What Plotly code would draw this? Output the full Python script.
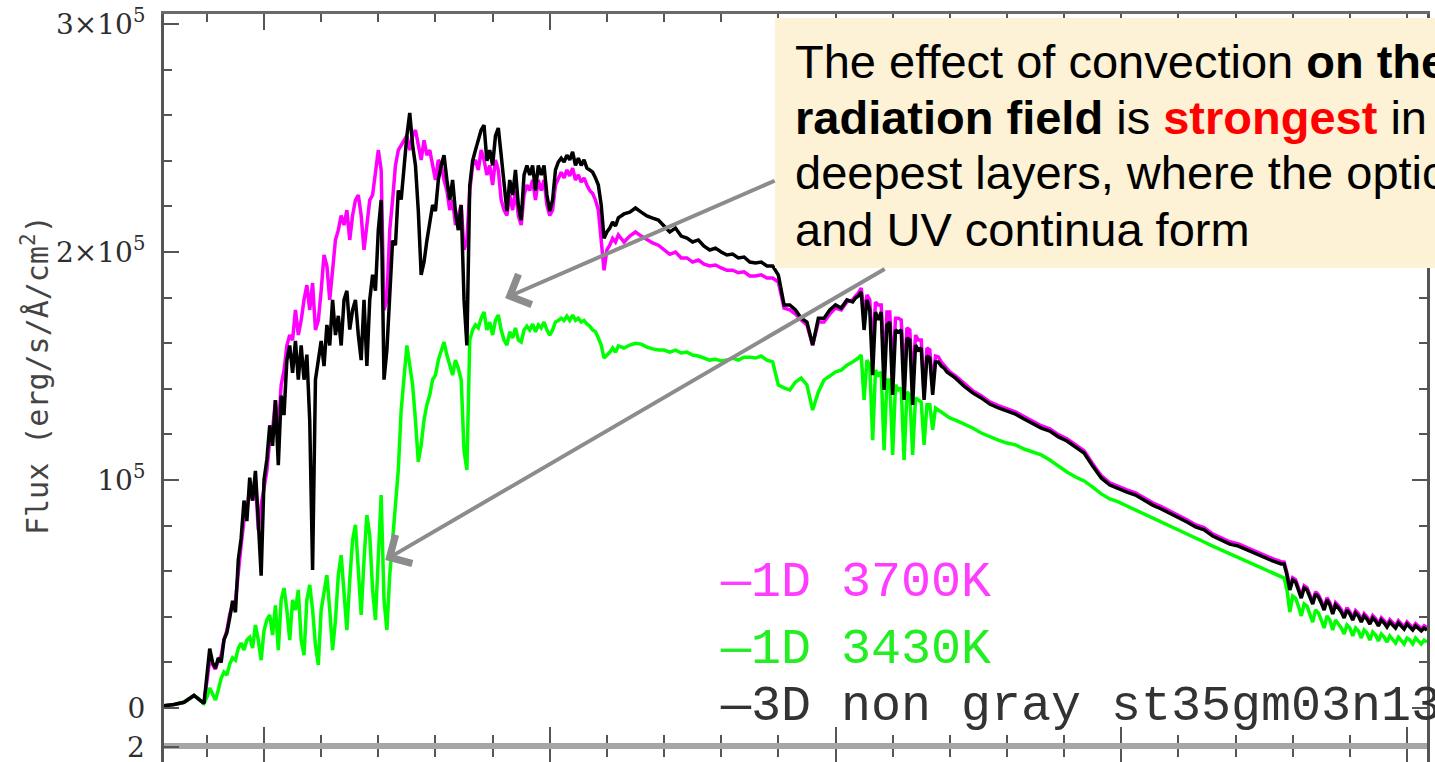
import plotly.graph_objects as go

# Wavelength grid (Angstrom) shared by the three synthetic spectra
lam = [
    3250, 3425, 3600, 3775, 3950,
    4000, 4050, 4100, 4150, 4200, 4250, 4300, 4350, 4400, 4450,
    4500, 4550, 4600, 4650, 4700, 4750, 4800, 4850, 4900, 4950,
    5000, 5050, 5100, 5150, 5200, 5250, 5300, 5350, 5400, 5450,
    5500, 5550, 5600, 5650, 5700, 5750, 5800, 5850, 5900, 5950,
    6000, 6050, 6100, 6150, 6200, 6250, 6300, 6350, 6400, 6450,
    6500, 6550, 6600, 6650, 6700, 6750, 6800, 6850, 6900, 6950,
    7000, 7050, 7100, 7150, 7200, 7250, 7300, 7350, 7400, 7450,
    7500, 7550, 7600, 7650, 7700, 7750, 7800, 7850, 7900, 7950,
    8000, 8050, 8100, 8150, 8200, 8250, 8300, 8350, 8400, 8450,
    8500, 8550, 8600, 8650, 8700, 8750, 8800, 8850, 8900, 8950,
    9000, 9050, 9100, 9150, 9200, 9250, 9300, 9350, 9400, 9450,
    9500, 9550, 9600, 9650, 9700, 9750, 9800, 9850, 9900, 9950,
    10000, 10050, 10100, 10150, 10200, 10250, 10300, 10350, 10400, 10450,
    10500, 10550, 10600, 10650, 10700, 10750, 10800, 10850, 10900, 10950,
    11000, 11050, 11100, 11150, 11200,
    11300, 11400, 11500, 11600, 11700, 11800, 11900, 12000, 12100, 12200,
    12300, 12400, 12500, 12600, 12700, 12800, 12900, 13000, 13100, 13200,
    13300, 13400, 13500, 13600, 13700, 13800, 13900, 14000, 14100, 14200,
    14300, 14400, 14500, 14600, 14700, 14800, 14900, 15000, 15100, 15200,
    15300,
    15350, 15400, 15450, 15500, 15550, 15600, 15650, 15700, 15750, 15800,
    15850, 15900, 15950, 16000, 16050, 16100, 16150, 16200, 16250, 16300,
    16350, 16400, 16450, 16500, 16550, 16600, 16650, 16700, 16750, 16800,
    16850, 16900, 16950, 17000,
    17100, 17250, 17400, 17550, 17700, 17850, 18000, 18150, 18300, 18450,
    18600, 18750, 18900, 19050, 19200, 19350, 19500, 19650, 19800, 19950,
    20100, 20250, 20400, 20550, 20700, 20850, 21000, 21150, 21300, 21450,
    21600, 21750, 21900, 22050, 22200, 22350, 22500, 22650, 22800,
    22850, 22900, 22950, 23000, 23050, 23100, 23150, 23200, 23250, 23300,
    23350, 23400, 23450, 23500, 23550, 23600, 23650, 23700, 23750, 23800,
    23850, 23900, 23950, 24000, 24050, 24100, 24150, 24200, 24250, 24300,
    24350, 24400, 24450, 24500, 24550, 24600, 24650, 24700, 24750, 24800,
    24850, 24900, 24950, 25000, 25050, 25100, 25150, 25200, 25250, 25300,
    25350,
]

# Flux in units of 10^3 erg/s/A/cm^2
flux_1d_3700 = [
    1, 1.5, 2.5, 5.5, 2,
    12, 21, 19, 17, 21, 23, 30, 34, 41, 45,
    47, 60.5, 71.5, 82.5, 87, 95.6, 91, 100, 78, 89,
    95.6, 104, 117.5, 122, 135, 122, 141.7, 148, 159, 163.6,
    161.4, 174.6, 163.6, 170, 179, 185.5, 174.6, 186.4, 165.8, 170,
    183, 198.7, 194, 179, 192, 205.3, 209.6, 216, 211.8, 218.4,
    205.3, 216, 222.8, 225, 216, 201, 211.8, 222.8, 225, 236,
    244.7, 236, 174.6, 179, 209.6, 222.8, 238, 244.7, 247, 249,
    251, 244.7, 251, 253.5, 247, 240.4, 249, 242.5, 244.7, 238,
    231.6, 240.4, 238, 231.6, 227, 218.4, 222.8, 211.8, 216, 220.6,
    201, 205, 227, 238, 240.4, 236, 244.7, 240.4, 233.8, 238,
    229.4, 240.4, 236, 222.8, 218.4, 216, 225, 218.4, 227, 216,
    211.8, 225, 229.4, 227, 231.6, 222.8, 231.6, 227, 231.6, 220.6,
    216, 218.4, 229.4, 232.5, 235, 232.5, 236, 233.4, 236.8, 231.6,
    233.8, 230.7, 232.5, 229.4, 227, 225.7, 222.8, 218.4, 205.3, 192,
    201, 203, 206, 204.4, 207.5,
    204.4, 207, 208.8, 207, 205.3, 204, 203, 200.9, 199, 200,
    197.4, 197.4, 195.6, 196.5, 194.7, 193.9, 194.3, 193, 192, 192,
    190.9, 191.3, 189.5, 189.5, 190, 188.6, 188.6, 186.8, 175.4, 174.6,
    172.8, 170.2, 168, 159.2, 169.3, 169.3, 172.8, 175.4, 174.6, 178.1,
    179,
    180.7, 182, 184.2, 172.4, 181.2, 179, 157, 178, 176.8, 176.8,
    148.2, 173.7, 173.7, 146, 171, 171, 170.2, 144, 166.7, 165.8,
    141.7, 163.6, 161.4, 161.4, 137.3, 157.9, 157, 141.7, 154.4, 154,
    151.8, 150.4, 149.1, 147.4,
    145.7, 142.2, 139.2, 137, 134.3, 132.6, 131.3, 129.9, 127.8, 125.6,
    123.8, 122.5, 119.9, 118.1, 115.5, 112.8, 107.1, 101.9, 98.8, 97.1,
    95.7, 94.4, 92.2, 90, 88.3, 86.5, 84.8, 82.6, 80.4, 79.1,
    76.4, 74.7, 72.9, 72, 70.3, 68.5, 67.2, 65.5, 64.2,
    64, 59.3, 52.8, 57.1, 56.3, 52.8, 49.2, 53.6, 52.8, 49.7,
    46.6, 51, 49.7, 47.1, 44, 48.4, 46.2, 42.2, 46.2, 44.9,
    43.1, 40.5, 44, 42.2, 39.6, 42.7, 41.4, 38.7, 41.4, 40,
    37.8, 40.5, 39.2, 37, 39.6, 38.3, 36.5, 38.7, 37.4, 36.1,
    38.3, 37, 35.6, 37.8, 36.5, 35.2, 37, 36.1, 34.8, 36.1,
    35.2,
]

flux_1d_3430 = [
    1, 1.5, 2.5, 5.5, 2,
    4.8, 8.8, 5.7, 3.5, 7.9, 13, 15.8, 14.5, 19.3, 22,
    21, 26.3, 28.5, 25.4, 29.8, 31, 26.3, 36.4, 29.8, 21,
    34, 38.6, 40.8, 32, 45, 25.4, 47.4, 52.6, 43, 29.8,
    47.4, 43, 51.8, 29.8, 23.2, 47.4, 54, 43, 27.6, 18.9,
    43, 51.8, 58.3, 43, 25.4, 38.6, 58.3, 67, 51.8, 34.2,
    56, 73.7, 80.3, 60.5, 40.8, 65, 84.6, 75.9, 51.8, 38.6,
    65, 93.4, 47.4, 34.2, 58.3, 73.7, 91.2, 104.4, 130.7, 146,
    159, 150.4, 141.7, 126.3, 108, 115.4, 126.3, 133, 137.3, 144,
    146, 152.6, 157, 160.5, 154.8, 150.4, 146, 152.6, 149, 144,
    113, 104.4, 161.4, 165.8, 168, 166.7, 171, 173.7, 165.8, 169.3,
    163.6, 170, 172.4, 165.8, 161.4, 159.2, 165, 162.3, 166.7, 161.4,
    160.5, 165.8, 167.5, 165.8, 168.4, 165, 168, 166.7, 169.3, 165.8,
    163.6, 165.8, 169.3, 170, 171, 170, 171.9, 170, 172.4, 170,
    171, 169.3, 170, 168.4, 167.5, 165.8, 165, 162.3, 159.2, 153.5,
    154.8, 156, 157.9, 156, 158.8,
    157.9, 159.2, 160, 159.6, 158.3, 157.5, 157, 157, 156.1, 157,
    155.7, 156.1, 154.8, 154.4, 153.5, 152.6, 153, 152.2, 152.6, 153.5,
    152.6, 153.9, 153.9, 153.5, 154.4, 152.6, 151.8, 141.7, 140.4, 139.5,
    143, 144.7, 141.7, 130.7, 138.6, 143.9, 145.6, 147.4, 148.2, 150.4,
    151.8,
    152.6, 153.5, 154.8, 135.1, 152.6, 150.4, 117.5, 148.2, 146, 147.4,
    113.1, 143.9, 143.9, 111, 141.7, 139.5, 140.4, 108.8, 138.6, 137.3,
    111, 136, 135.1, 134.2, 115.4, 133, 133, 122, 131.6, 130.7,
    129.8, 128.9, 128, 127.2,
    126.3, 124.6, 122.8, 120.6, 118.9, 117.5, 116.2, 115.4, 113.6, 112.3,
    111, 108.8, 106.1, 103.5, 101.3, 99.6, 96.9, 93.9, 91.7, 90.4,
    88.6, 86.8, 85.1, 83.3, 81.6, 79.8, 78.1, 76.3, 74.6, 72.8,
    71, 69.3, 68, 66.2, 64.5, 62.7, 61, 59.2, 57.5,
    57, 51.8, 42.1, 49.1, 48.2, 44.7, 40.4, 45.6, 44.7, 41.2,
    37.7, 43, 41.7, 38.6, 35.1, 40.4, 38.6, 34.2, 38.6, 36.8,
    35.1, 32.5, 36.4, 35.1, 31.6, 35.1, 33.8, 30.7, 34.2, 32.9,
    29.8, 33.3, 32, 29.4, 32.5, 31.1, 28.9, 31.6, 30.3, 28.5,
    31.1, 29.8, 28.1, 30.7, 29.8, 28.1, 30.7, 29.4, 28.1, 29.8,
    28.9,
]

flux_3d = [
    1, 1.5, 2.5, 5.5, 2,
    14.5, 26, 20, 17.5, 22, 20, 30, 33, 39.5, 47,
    42, 65, 74.5, 91, 82, 101, 91, 104, 82, 58,
    100, 109, 124, 115, 135, 106.5, 137, 128.5, 152.6, 159,
    147, 161, 144, 159, 144, 155, 126, 60.5, 144, 152.6,
    161, 150, 168, 159, 179, 163.6, 172, 159, 179, 183,
    166, 174.6, 179, 163.6, 152.6, 179, 150, 179, 190, 183,
    209.6, 222.8, 144, 157, 183, 205, 203, 227, 223, 238,
    251, 261, 247, 238, 218, 190, 195.6, 205, 212, 220.6,
    218, 231.6, 238, 242.5, 231.6, 222.8, 231.6, 217.5, 209.6, 220.6,
    179, 159, 229, 240, 244.7, 249, 253.5, 255.7, 240, 244.7,
    238, 251, 254.4, 242.5, 229, 218, 231.6, 225, 236, 220.6,
    214, 233.8, 238, 233.8, 238, 227, 238, 233.8, 238, 225,
    218, 222.8, 236, 239.5, 241.2, 239.5, 242.5, 240.4, 243.9, 238,
    241.2, 238, 240.4, 236.8, 236, 235, 232.5, 229.4, 220.6, 206,
    208.8, 210.5, 213.2, 211.4, 215,
    216.7, 217.5, 219.3, 217.5, 215.8, 214.9, 214, 211.4, 208.8, 210.5,
    207, 206.1, 204.4, 205.3, 202.6, 200.9, 201.7, 200, 198.7, 199.1,
    197.4, 197.8, 195.6, 195.2, 195.6, 193.9, 193.9, 189.9, 176.8, 176.8,
    174.6, 171, 169.3, 159.2, 171, 171, 174.6, 176.8, 175.4, 179,
    178.1,
    179.8, 180.7, 182.5, 165.8, 179, 174.6, 146, 173.7, 170.2, 173.7,
    139.5, 168, 169.3, 137.3, 165.8, 164.9, 165.8, 135.1, 162.3, 161.4,
    132.9, 159.2, 157, 157.9, 135.1, 154.4, 153.5, 137.3, 151.8, 151.8,
    150, 149.1, 147.4, 146.5,
    144.7, 141.2, 138.2, 136, 133.3, 131.6, 130.3, 128.9, 126.8, 124.6,
    122.8, 121.5, 118.9, 117.1, 114.5, 111.8, 106.1, 100.9, 97.8, 96.1,
    94.7, 93.4, 91.2, 89, 87.3, 85.5, 83.8, 81.6, 79.4, 78.1,
    75.4, 73.7, 71.9, 71, 69.3, 67.5, 66.2, 64.5, 63.2,
    63.2, 58.3, 51.8, 56.1, 55.3, 51.8, 48.2, 52.6, 51.8, 48.7,
    45.6, 50, 48.7, 46.1, 43, 47.4, 45.2, 41.2, 45.2, 43.9,
    42.1, 39.5, 43, 41.2, 38.6, 41.7, 40.4, 37.7, 40.4, 39,
    36.8, 39.5, 38.2, 36, 38.6, 37.3, 35.5, 37.7, 36.4, 35.1,
    37.3, 36, 34.6, 36.8, 35.5, 34.2, 36, 35.1, 33.8, 35.1,
    34.2,
]

series_names = ["1D 3700K", "1D 3430K", "3D non gray st35gm03n13"]
series_colors = ["#ff00ff", "#00ff00", "#000000"]
label_colors = ["#ff3dff", "#22ee22", "#333333"]

y_tickvals = [0, 1e5, 2e5, 3e5]
y_ticktext = ["0", "10<sup>5</sup>", "2×10<sup>5</sup>", "3×10<sup>5</sup>"]

assert len(lam) == len(flux_1d_3700) == len(flux_1d_3430) == len(flux_3d)

W, H = 1435, 762
ML, MR, MT, MB = 164, 8, 14, 0
PW, PH = W - ML - MR, H - MT - MB


def px_x(px):
    return (px - ML) / PW


def px_y(py):
    return (H - MB - py) / PH


x_range = [3250, 25350]
main_bottom = px_y(743)

fig = go.Figure()
for flux, name, color in zip([flux_1d_3700, flux_1d_3430, flux_3d], series_names, series_colors):
    fig.add_trace(go.Scatter(
        x=lam, y=[f * 1e3 for f in flux], mode="lines", name=name,
        line=dict(color=color, width=3.5), xaxis="x", yaxis="y",
    ))

# empty traces so the lower panel stub and the crossing bottom ticks get drawn
fig.add_trace(go.Scatter(x=[], y=[], xaxis="x", yaxis="y2", showlegend=False))
fig.add_trace(go.Scatter(x=[], y=[], xaxis="x2", yaxis="y", showlegend=False))

tick_font = dict(family="DejaVu Serif", size=28, color="#2e2e2e")
axis_grey = "#555555"

fig.update_layout(
    width=W, height=H,
    margin=dict(l=ML, r=MR, t=MT, b=MB, pad=0),
    paper_bgcolor="white", plot_bgcolor="white",
    showlegend=False,
    xaxis=dict(
        range=x_range, domain=[0, 1], anchor="y",
        showline=True, linecolor="#6a6a6a", linewidth=3, mirror="ticks",
        ticks="inside", tick0=0, dtick=5000, ticklen=16, tickwidth=2, tickcolor=axis_grey,
        minor=dict(tick0=0, dtick=1000, ticks="inside", ticklen=8, tickwidth=2,
                   tickcolor=axis_grey, showgrid=False),
        showticklabels=False, showgrid=False, zeroline=False,
    ),
    xaxis2=dict(
        range=x_range, overlaying="x", anchor="y", side="bottom",
        showline=True, linecolor="#a6a6a6", linewidth=6,
        ticks="outside", tick0=0, dtick=5000, ticklen=16, tickwidth=2, tickcolor=axis_grey,
        minor=dict(tick0=0, dtick=1000, ticks="outside", ticklen=8, tickwidth=2,
                   tickcolor=axis_grey, showgrid=False),
        showticklabels=False, showgrid=False, zeroline=False,
    ),
    yaxis=dict(
        range=[-15350, 304400], domain=[main_bottom, 1], anchor="x",
        showline=True, linecolor=axis_grey, linewidth=3, mirror="ticks",
        ticks="inside", tickmode="array", tickvals=y_tickvals, ticktext=y_ticktext,
        ticklen=15, tickwidth=2, tickcolor=axis_grey,
        minor=dict(tickmode="linear", tick0=0, dtick=20000, ticks="inside", ticklen=8,
                   tickwidth=2, tickcolor=axis_grey, showgrid=False),
        tickfont=tick_font, ticklabelstandoff=10,
        showgrid=False, zeroline=False,
    ),
    yaxis2=dict(
        range=[1.85, 2.04], domain=[0, main_bottom], anchor="x",
        showline=True, linecolor=axis_grey, linewidth=3, mirror=True,
        ticks="inside", tickmode="array", tickvals=[2], ticktext=[""],
        ticklen=15, tickwidth=2, tickcolor=axis_grey,
        showticklabels=False, showgrid=False, zeroline=False,
    ),
)

# tick label of the lower panel, partly below the page edge
fig.add_annotation(
    text="2", xref="paper", yref="y2", x=px_x(147), y=2,
    xanchor="right", yanchor="middle", showarrow=False, font=tick_font,
)

# cream call-out box
fig.add_shape(
    type="rect", xref="paper", yref="paper",
    x0=px_x(775), x1=px_x(1480), y0=px_y(268), y1=px_y(18),
    fillcolor="#fdf2d5", line=dict(width=0), layer="above",
)

box_font = dict(family="Liberation Sans, Arial", size=47, color="#000000")
box_lines = [
    "The effect of convection <b>on the</b>",
    "<b>radiation field</b> is <b><span style='color:#ff0000'>strongest</span></b> in the",
    "deepest layers, where the optical",
    "and UV continua form",
]
box_centres = [61, 117, 173, 229]
for text, cy in zip(box_lines, box_centres):
    fig.add_annotation(
        text=text, xref="paper", yref="paper", x=px_x(793), y=px_y(cy),
        xanchor="left", yanchor="middle", align="left", showarrow=False,
        font=box_font,
    )

# arrows from the call-out to the spectra
for head_lam, head_flux, ax, ay in [(9220, 179800, 271, -118), (7120, 64900, 501, -292)]:
    fig.add_annotation(
        x=head_lam, y=head_flux, xref="x", yref="y", text="",
        showarrow=True, ax=ax, ay=ay, axref="pixel", ayref="pixel",
        arrowhead=4, arrowsize=1.6, arrowwidth=4, arrowcolor="#8c8c8c",
    )

# legend written inside the plot
legend_font = "Liberation Mono, Courier New, monospace"
for name, color, cy in zip(series_names, label_colors, [582, 649, 706]):
    fig.add_annotation(
        text="—" + name, xref="paper", yref="paper", x=px_x(718), y=px_y(cy),
        xanchor="left", yanchor="middle", showarrow=False,
        font=dict(family=legend_font, size=50, color=color),
    )

# y-axis title
fig.add_annotation(
    text="Flux (erg/s/Å/cm<sup>2</sup>)", xref="paper", yref="paper",
    x=px_x(35), y=px_y(375), xanchor="center", yanchor="middle",
    textangle=-90, showarrow=False,
    font=dict(family="DejaVu Sans Mono", size=30, color="#444444"),
)

fig.write_html("out.html")
